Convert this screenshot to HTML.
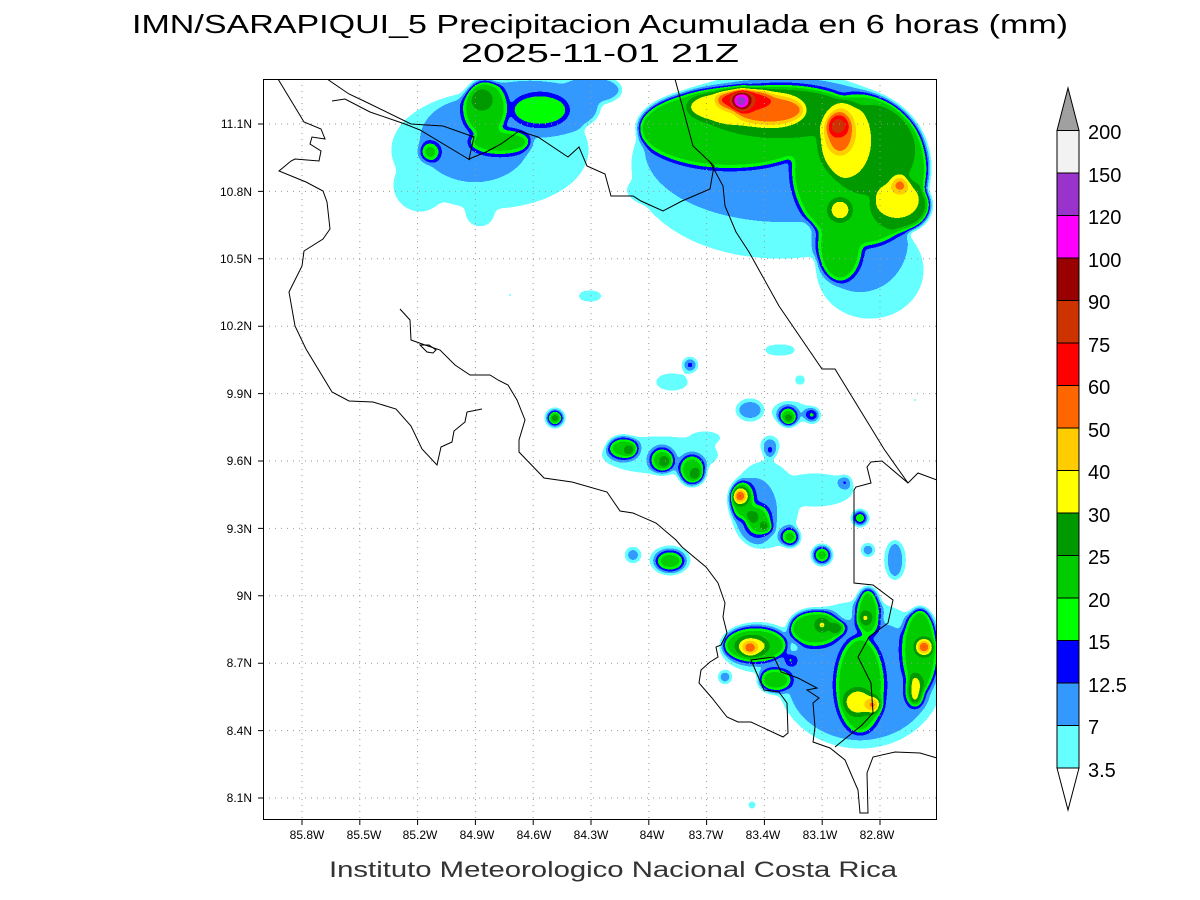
<!DOCTYPE html>
<html><head><meta charset="utf-8"><style>html,body{margin:0;padding:0;background:#fff}svg{display:block}</style></head><body>
<svg width="1200" height="900" viewBox="0 0 1200 900" xmlns="http://www.w3.org/2000/svg" font-family="Liberation Sans, sans-serif">
<defs>
<clipPath id="c"><rect x="263" y="79" width="674" height="741"/></clipPath>
<filter id="f" filterUnits="userSpaceOnUse" x="263" y="79" width="674" height="741" color-interpolation-filters="sRGB">
<feGaussianBlur in="SourceGraphic" stdDeviation="3.5"/>
<feComponentTransfer>
<feFuncR type="discrete" tableValues="1 0.4 0.2 0 0 0 0 1 1 1 1 0.8 0.6 1 0.6 0.95"/>
<feFuncG type="discrete" tableValues="1 1 0.6 0 1 0.8 0.6 1 0.8 0.4 0 0.2 0 0 0.2 0.95"/>
<feFuncB type="discrete" tableValues="1 1 1 1 0 0 0 0 0 0 0 0 0 1 0.8 0.95"/>
<feFuncA type="linear" slope="0" intercept="1"/>
</feComponentTransfer>
</filter>
</defs>
<rect width="1200" height="900" fill="#fff"/>
<g clip-path="url(#c)"><g filter="url(#f)">
<rect x="253" y="69" width="694" height="761" fill="#000"/>
<g fill="#181818">
<ellipse cx="490" cy="150" rx="100" ry="60"/>
<circle cx="420" cy="185" r="28"/>
<circle cx="480" cy="212" r="16"/>
<circle cx="540" cy="185" r="13"/>
<ellipse cx="780" cy="165" rx="150" ry="95"/>
<ellipse cx="870" cy="270" rx="55" ry="50"/>
<ellipse cx="680" cy="190" rx="55" ry="22"/>
<ellipse cx="590" cy="296" rx="14" ry="7"/>
<circle cx="510" cy="295" r="5"/>
<circle cx="538" cy="328" r="4"/>
<ellipse cx="672" cy="382" rx="18" ry="10"/>
<ellipse cx="780" cy="350" rx="18" ry="7"/>
<circle cx="800" cy="380" r="7"/>
<circle cx="915" cy="400" r="5"/>
<ellipse cx="790" cy="412" rx="20" ry="12"/>
<ellipse cx="660" cy="455" rx="60" ry="20"/>
<ellipse cx="705" cy="438" rx="18" ry="8"/>
<ellipse cx="765" cy="505" rx="35" ry="45"/>
<ellipse cx="815" cy="490" rx="40" ry="18"/>
<ellipse cx="670" cy="560" rx="22" ry="15"/>
<circle cx="633" cy="555" r="9"/>
<circle cx="621" cy="533" r="4"/>
<circle cx="752" cy="805" r="6"/>
<ellipse cx="860" cy="675" rx="85" ry="75"/>
<ellipse cx="760" cy="648" rx="40" ry="26"/>
</g>
<g fill="#282828">
<ellipse cx="475" cy="140" rx="55" ry="42"/>
<ellipse cx="530" cy="108" rx="70" ry="30"/>
<ellipse cx="590" cy="90" rx="32" ry="15"/>
<ellipse cx="785" cy="150" rx="140" ry="72"/>
<ellipse cx="860" cy="240" rx="48" ry="52"/>
<ellipse cx="750" cy="410" rx="14" ry="11"/>
<circle cx="770" cy="445" r="9"/>
<ellipse cx="755" cy="512" rx="22" ry="34"/>
<ellipse cx="895" cy="560" rx="10" ry="20"/>
<ellipse cx="860" cy="680" rx="72" ry="60"/>
</g>
<g fill="#383838">
<circle cx="690" cy="365" r="7"/>
<circle cx="845" cy="482" r="6"/>
<circle cx="770" cy="452" r="6"/>
<circle cx="868" cy="550" r="6"/>
<circle cx="633" cy="555" r="5"/>
<circle cx="725" cy="677" r="6"/>
</g>
<g fill="#484848">
<ellipse cx="540" cy="110" rx="28" ry="16"/>
<circle cx="812" cy="415" r="7"/>
<circle cx="790" cy="660" r="6"/>
</g>
<g fill="#585858">
<ellipse cx="485" cy="108" rx="22" ry="28"/>
<ellipse cx="500" cy="142" rx="30" ry="12"/>
<circle cx="430" cy="152" r="9"/>
<ellipse cx="730" cy="128" rx="92" ry="40"/>
<ellipse cx="860" cy="170" rx="68" ry="76"/>
<ellipse cx="840" cy="245" rx="22" ry="36"/>
<circle cx="788" cy="416" r="9"/>
<circle cx="555" cy="418" r="8"/>
<ellipse cx="623" cy="448" rx="15" ry="11"/>
<circle cx="662" cy="460" r="12"/>
<ellipse cx="692" cy="470" rx="13" ry="15"/>
<ellipse cx="742" cy="500" rx="12" ry="19"/>
<ellipse cx="758" cy="520" rx="12" ry="15"/>
<circle cx="790" cy="537" r="9"/>
<circle cx="822" cy="555" r="9"/>
<circle cx="860" cy="518" r="7"/>
<ellipse cx="670" cy="561" rx="14" ry="10"/>
<ellipse cx="755" cy="645" rx="32" ry="18"/>
<ellipse cx="775" cy="680" rx="16" ry="12"/>
<ellipse cx="815" cy="628" rx="26" ry="18"/>
<ellipse cx="868" cy="612" rx="12" ry="24"/>
<ellipse cx="860" cy="685" rx="24" ry="48"/>
<ellipse cx="920" cy="650" rx="18" ry="42"/>
</g>
<g fill="#686868">
<circle cx="482" cy="100" r="11"/>
<ellipse cx="780" cy="112" rx="75" ry="26"/>
<ellipse cx="870" cy="150" rx="45" ry="45"/>
<ellipse cx="900" cy="205" rx="30" ry="26"/>
</g>
<g fill="#787878">
<ellipse cx="740" cy="107" rx="52" ry="18"/>
<ellipse cx="845" cy="140" rx="26" ry="38"/>
<ellipse cx="897" cy="200" rx="22" ry="18"/>
<circle cx="840" cy="210" r="11"/>
<circle cx="789" cy="420" r="5"/>
<circle cx="555" cy="418" r="5"/>
<circle cx="630" cy="451" r="5"/>
<circle cx="665" cy="462" r="5"/>
<circle cx="696" cy="474" r="5"/>
<circle cx="752" cy="517" r="5"/>
<circle cx="766" cy="527" r="5"/>
<ellipse cx="752" cy="646" rx="16" ry="9"/>
<circle cx="822" cy="625" r="6"/>
<circle cx="838" cy="628" r="6"/>
<circle cx="865" cy="618" r="6"/>
<ellipse cx="858" cy="702" rx="14" ry="13"/>
<ellipse cx="915" cy="690" rx="8" ry="16"/>
</g>
<g fill="#979797">
<ellipse cx="770" cy="110" rx="34" ry="15"/>
<ellipse cx="840" cy="132" rx="14" ry="22"/>
<circle cx="900" cy="185" r="8"/>
<circle cx="873" cy="705" r="7"/>
</g>
<g fill="#a7a7a7">
<ellipse cx="745" cy="100" rx="28" ry="11"/>
<circle cx="740" cy="496" r="7"/>
<circle cx="750" cy="648" r="6"/>
<circle cx="924" cy="647" r="7"/>
</g>
<g fill="#b7b7b7">
<circle cx="838" cy="126" r="10"/>
<circle cx="743" cy="100" r="12"/>
</g>
<g fill="#c7c7c7"><circle cx="742" cy="100" r="10"/></g>
<g fill="#d7d7d7"><circle cx="741" cy="101" r="8"/></g>
<g fill="#e7e7e7"><circle cx="741" cy="101" r="6"/></g>
<g fill="#f7f7f7"><circle cx="741" cy="101" r="4"/></g>
</g></g>
<!-- grid -->
<g stroke="#999" stroke-width="1" stroke-dasharray="1,5" clip-path="url(#c)">
<path d="M302 79V820M359.8 79V820M417.6 79V820M475.4 79V820M533.2 79V820M591 79V820M648.8 79V820M706.6 79V820M764.4 79V820M822.2 79V820M880 79V820"/>
<path d="M263 124H937M263 191.4H937M263 258.8H937M263 326.2H937M263 393.6H937M263 461H937M263 528.4H937M263 595.8H937M263 663.2H937M263 730.6H937M263 798H937"/>
</g>
<!-- coastlines -->
<g fill="none" stroke="#000" stroke-width="1" clip-path="url(#c)">
<path d="M278 79L304 122 321 129 325 139 312 137 310 144 321 151 319 161 295 159 291 161 279 171 306 182 323 191 327 202 330 229 323 239 304 251 302 266 289 292 295 326 306 349 332 392 349 401 373 402 396 409 411 426 422 449 437 465 441 447 452 442 454 431 465 422 467 412 482 409"/>
<path d="M400 309L410 320 411 340 425 345 440 350 455 365 470 375 490 375 498 380 508 385 517 400 525 420 519 440 519 452 544 478 572 482 607 492 620 511 633 513 656 523 676 540 682 547 706 567 718 583 725 603 723 617 727 633 721 645 716 647 718 657 710 662 701 670 699 683 712 698 727 717 738 722 751 722 783 737 788 733 787 703 779 692 764 690 751 660 774 657 781 672 798 678 817 688 807 690 819 698 813 703 815 727 813 742 830 748 845 760 858 790 860 813 868 813 867 773 873 757 895 752 920 753 937 758"/>
<path d="M420 345L427 352 433 353 436 350 429 345 Z"/>
<path d="M327 79L349 94 366 102 411 124 443 126 474 137 469 159 486 152 501 144 519 131 538 137 568 157 579 147 587 166 605 174 611 196 633 196 641 201 663 211 682 201 710 189 714 166 710 162 693 146 675 79"/>
<path d="M332 101L345 99 370 112 405 124 420 130 470 160"/>
<path d="M710 162L723 186 725 206 736 232 749 252 779 306 822 369 835 369 884 449 908 483 918 473 937 480"/>
<path d="M854 490V583L873 585 893 600 888 623 869 637 858 657 871 683 873 713 862 725 835 747"/>
<path d="M854 490L856 487 871 483 867 467 871 462 882 461 908 483"/>
</g>
<rect x="263.5" y="79.5" width="673" height="740" fill="none" stroke="#000" stroke-width="1"/>
<!-- ticks -->
<g stroke="#000" stroke-width="1">
<path d="M302 820v5M359.8 820v5M417.6 820v5M475.4 820v5M533.2 820v5M591 820v5M648.8 820v5M706.6 820v5M764.4 820v5M822.2 820v5M880 820v5"/>
<path d="M258 124h5M258 191.4h5M258 258.8h5M258 326.2h5M258 393.6h5M258 461h5M258 528.4h5M258 595.8h5M258 663.2h5M258 730.6h5M258 798h5"/>
</g>
<g font-size="12" fill="#000" text-anchor="middle">
<text x="307" y="839">85.8W</text><text x="364" y="839">85.5W</text><text x="420" y="839">85.2W</text><text x="477" y="839">84.9W</text><text x="534" y="839">84.6W</text><text x="591" y="839">84.3W</text><text x="652" y="839">84W</text><text x="706" y="839">83.7W</text><text x="763" y="839">83.4W</text><text x="820" y="839">83.1W</text><text x="877" y="839">82.8W</text>
</g>
<g font-size="12" fill="#000" text-anchor="end">
<text x="252" y="128">11.1N</text><text x="252" y="196">10.8N</text><text x="252" y="263">10.5N</text><text x="252" y="330">10.2N</text><text x="252" y="398">9.9N</text><text x="252" y="465">9.6N</text><text x="252" y="533">9.3N</text><text x="252" y="600">9N</text><text x="252" y="667">8.7N</text><text x="252" y="735">8.4N</text><text x="252" y="802">8.1N</text>
</g>
<!-- titles -->
<text x="132" y="33" font-size="26" textLength="936" lengthAdjust="spacingAndGlyphs">IMN/SARAPIQUI_5 Precipitacion Acumulada en 6 horas (mm)</text>
<text x="461" y="62" font-size="26" textLength="278" lengthAdjust="spacingAndGlyphs">2025-11-01 21Z</text>
<text x="329" y="877" font-size="22" fill="#333" textLength="568" lengthAdjust="spacingAndGlyphs">Instituto Meteorologico Nacional Costa Rica</text>
<!-- colorbar -->
<g stroke="#000" stroke-width="1">
<path d="M1057 130.5L1068 88 1079 130.5Z" fill="#a0a0a0"/>
<rect x="1057" y="130.5" width="22" height="42.5" fill="#f2f2f2"/>
<rect x="1057" y="173" width="22" height="42.5" fill="#9933cc"/>
<rect x="1057" y="215.5" width="22" height="42.5" fill="#ff00ff"/>
<rect x="1057" y="258" width="22" height="42.5" fill="#990000"/>
<rect x="1057" y="300.5" width="22" height="42.5" fill="#cc3300"/>
<rect x="1057" y="343" width="22" height="42.5" fill="#ff0000"/>
<rect x="1057" y="385.5" width="22" height="42.5" fill="#ff6600"/>
<rect x="1057" y="428" width="22" height="42.5" fill="#ffcc00"/>
<rect x="1057" y="470.5" width="22" height="42.5" fill="#ffff00"/>
<rect x="1057" y="513" width="22" height="42.5" fill="#009900"/>
<rect x="1057" y="555.5" width="22" height="42.5" fill="#00cc00"/>
<rect x="1057" y="598" width="22" height="42.5" fill="#00ff00"/>
<rect x="1057" y="640.5" width="22" height="42.5" fill="#0000ff"/>
<rect x="1057" y="683" width="22" height="42.5" fill="#3399ff"/>
<rect x="1057" y="725.5" width="22" height="42.5" fill="#66ffff"/>
<path d="M1057 768L1068 810 1079 768Z" fill="#fff"/>
</g>
<g font-size="20" fill="#000">
<text x="1088" y="139">200</text><text x="1088" y="182">150</text><text x="1088" y="224">120</text><text x="1088" y="267">100</text><text x="1088" y="309">90</text><text x="1088" y="352">75</text><text x="1088" y="394">60</text><text x="1088" y="437">50</text><text x="1088" y="479">40</text><text x="1088" y="522">30</text><text x="1088" y="564">25</text><text x="1088" y="607">20</text><text x="1088" y="649">15</text><text x="1088" y="692">12.5</text><text x="1088" y="734">7</text><text x="1088" y="777">3.5</text>
</g>
</svg>
</body></html>
